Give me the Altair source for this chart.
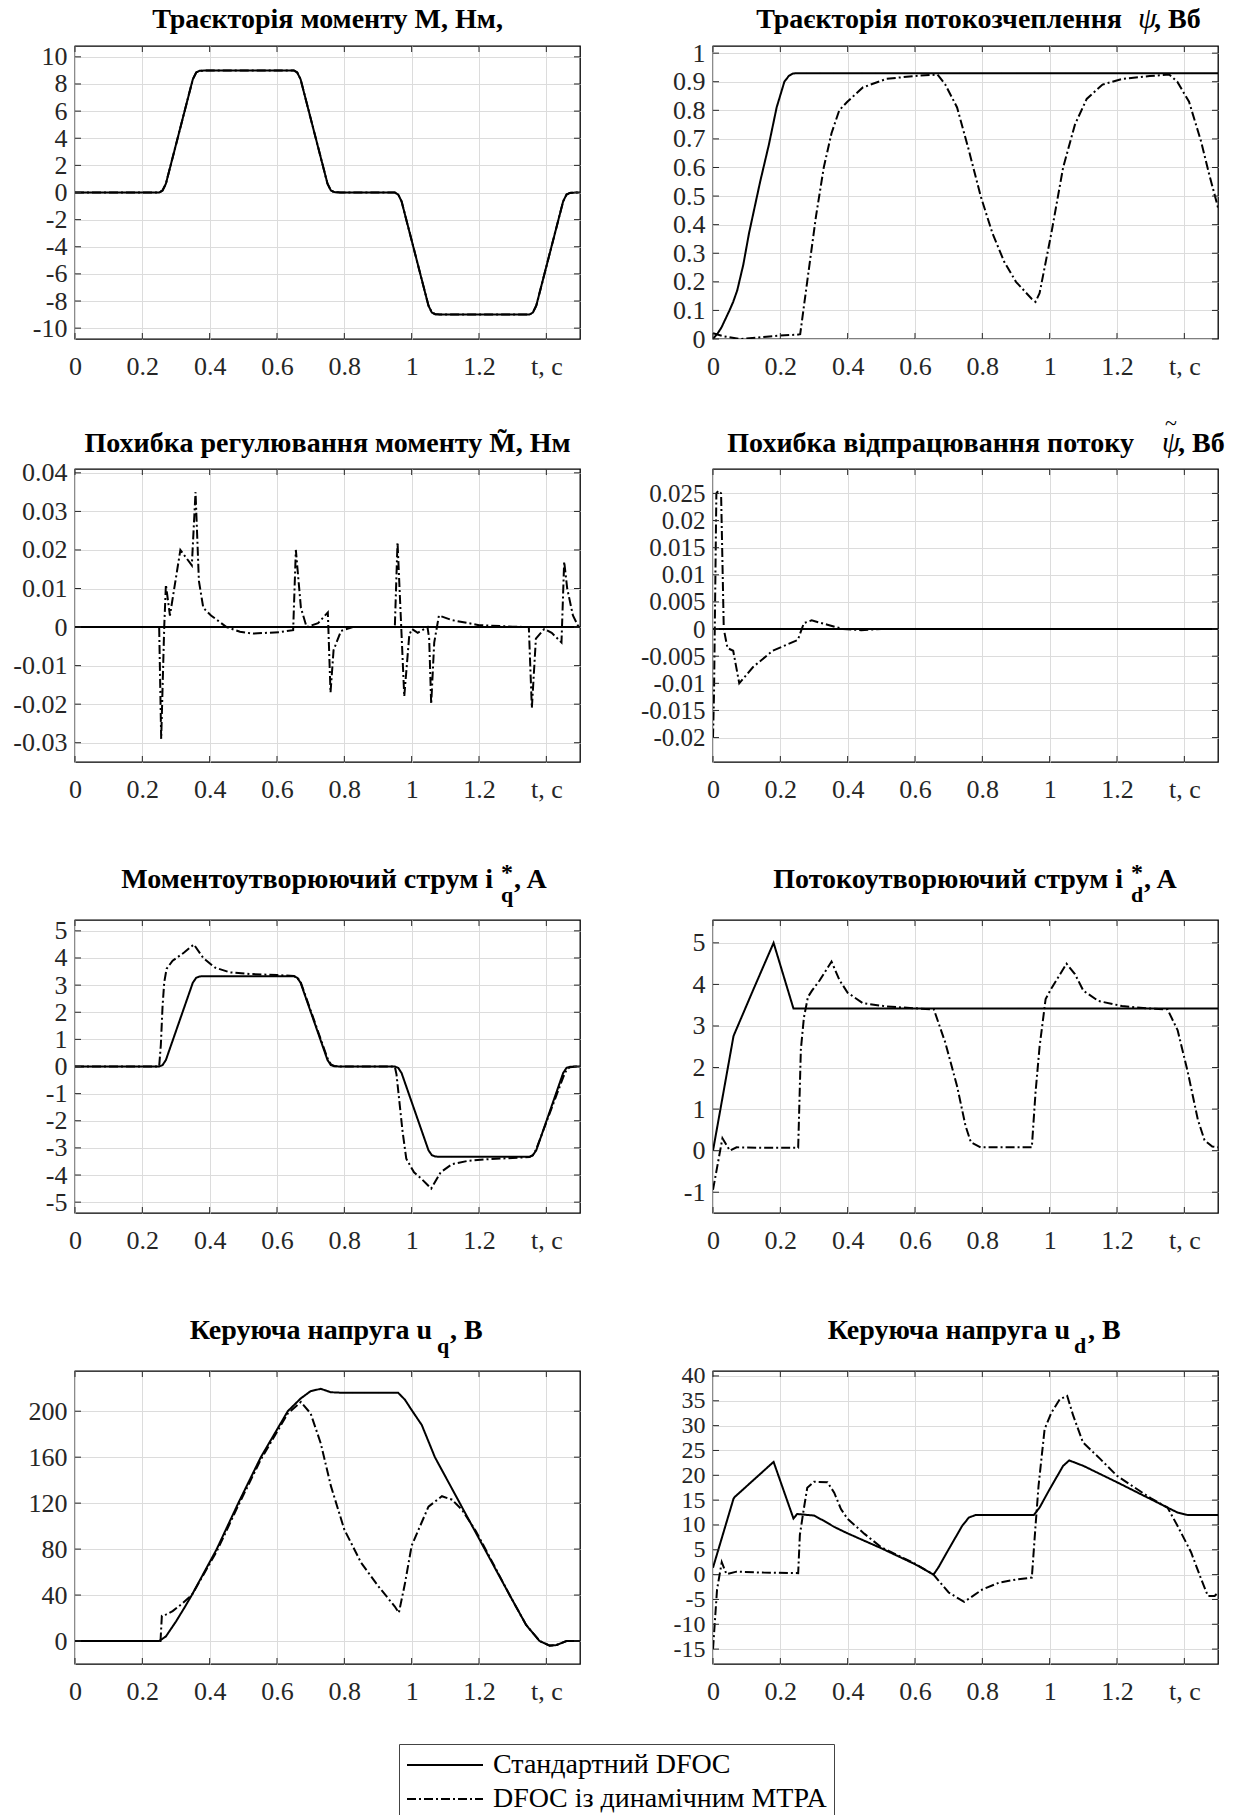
import altair as alt
import pandas as pd

FONT = "Liberation Serif"
TXT = "#262626"
SERIES = ["Стандартний DFOC", "DFOC із динамічним MTPA"]
DASH = [[1, 0], [9, 3, 2, 3]]
W, H = 505, 293
X_TICKS = [0, 0.2, 0.4, 0.6, 0.8, 1.0, 1.2, 1.4]

# ---------- Panel 1: torque ----------
m_t = [0, 0.25, 0.26, 0.27, 0.35, 0.36, 0.37, 0.39, 0.65, 0.66, 0.67, 0.75, 0.76, 0.77, 0.79,
       0.95, 0.96, 0.97, 1.05, 1.06, 1.07, 1.09, 1.35, 1.36, 1.37, 1.45, 1.46, 1.47, 1.49, 1.5]
m_std = [0, 0, 0.15, 0.65, 8.35, 8.85, 8.97, 9, 9, 8.85, 8.35, 0.65, 0.15, 0.03, 0,
         0, -0.15, -0.65, -8.35, -8.85, -8.97, -9, -9, -8.85, -8.35, -0.65, -0.15, -0.03, 0, 0]
m_dyn = [0, 0, 0.15, 0.65, 8.35, 8.85, 8.97, 9, 9, 8.85, 8.35, 0.65, 0.15, 0.03, 0,
         0, -0.15, -0.65, -8.35, -8.85, -8.97, -9, -9, -8.85, -8.35, -0.65, -0.15, -0.03, 0, 0]

# ---------- Panel 2: flux ----------
psi_std_t = [0, 0.014, 0.025, 0.037, 0.049, 0.06, 0.072, 0.09, 0.107, 0.14, 0.166, 0.189, 0.212,
             0.225, 0.236, 0.245, 1.5]
psi_std = [0, 0.02, 0.04, 0.07, 0.1, 0.13, 0.17, 0.26, 0.37, 0.55, 0.68, 0.81, 0.90,
           0.92, 0.928, 0.93, 0.93]
psi_dyn_t = [0, 0.03, 0.08, 0.15, 0.2, 0.25, 0.259, 0.282, 0.306, 0.329, 0.352, 0.375, 0.399, 0.445,
             0.515, 0.597, 0.667, 0.69, 0.725, 0.76, 0.795, 0.83, 0.865, 0.9, 0.947, 0.958, 0.97,
             1.005, 1.04, 1.075, 1.11, 1.157, 1.215, 1.297, 1.355, 1.379, 1.414, 1.45, 1.473, 1.5]
psi_dyn = [0.02, 0.01, 0.0, 0.007, 0.012, 0.015, 0.017, 0.22, 0.43, 0.60, 0.72, 0.80, 0.83, 0.88,
           0.91, 0.92, 0.925, 0.89, 0.81, 0.66, 0.50, 0.37, 0.27, 0.20, 0.14, 0.13, 0.16,
           0.37, 0.60, 0.75, 0.84, 0.89, 0.91, 0.92, 0.925, 0.90, 0.83, 0.69, 0.58, 0.46]

# ---------- Panel 3: torque error ----------
em_std_t = [0, 1.5]
em_std = [0, 0]
em_dyn_t = [0, 0.25, 0.256, 0.265, 0.27, 0.282, 0.313, 0.347, 0.358, 0.368,
            0.381, 0.404, 0.45, 0.49, 0.529, 0.609, 0.648, 0.656, 0.671, 0.688,
            0.722, 0.751, 0.759, 0.768, 0.79, 0.825, 0.95, 0.958, 0.969, 0.978,
            0.993, 1.001, 1.018, 1.047, 1.052, 1.058, 1.067, 1.081, 1.12, 1.2,
            1.3, 1.348, 1.357, 1.369, 1.394, 1.416, 1.445, 1.453, 1.462, 1.479,
            1.496, 1.5]
em_dyn = [0, 0, -0.029, 0.0, 0.011, 0.003, 0.020, 0.016, 0.035, 0.012,
          0.005, 0.003, 0.0, -0.0012, -0.0017, -0.0013, -0.0008, 0.020, 0.005, 0.0,
          0.001, 0.0038, -0.017, -0.006, -0.001, 0.0, 0.0, 0.022, 0.0, -0.018,
          -0.002, -0.0005, -0.0015, 0.0, -0.003, -0.020, -0.004, 0.003, 0.0018, 0.0005,
          0.0001, 0.0, -0.021, -0.003, -0.0005, -0.0015, -0.004, 0.017, 0.010, 0.003,
          0.0, 0.0]

# ---------- Panel 4: flux error ----------
ep_std_t = [0, 1.5]
ep_std = [0, 0]
ep_dyn_t = [0, 0.003, 0.01, 0.016, 0.024, 0.032, 0.043, 0.06, 0.078, 0.119, 0.177, 0.252,
            0.27, 0.293, 0.34, 0.386, 0.44, 0.5, 1.5]
ep_dyn = [-0.02, -0.012, 0.025, 0.0255, 0.025, 0.0, -0.0035, -0.004, -0.01, -0.007, -0.004, -0.002,
          0.0011, 0.0016, 0.0008, 0.0, -0.0002, 0.0, 0.0]

# ---------- Panel 5: iq* ----------
iq_std_t = [0, 0.25, 0.26, 0.27, 0.35, 0.36, 0.37, 0.39, 0.65, 0.66, 0.67, 0.75, 0.76, 0.77, 0.79,
            0.95, 0.96, 0.97, 1.05, 1.06, 1.07, 1.09, 1.35, 1.36, 1.37, 1.45, 1.46, 1.47, 1.49, 1.5]
iq_std = [0, 0, 0.05, 0.24, 3.09, 3.27, 3.32, 3.33, 3.33, 3.27, 3.09, 0.24, 0.05, 0.01, 0,
          0, -0.05, -0.24, -3.09, -3.27, -3.32, -3.33, -3.33, -3.27, -3.09, -0.24, -0.05, -0.01, 0, 0]
iq_dyn_t = [0, 0.25, 0.255, 0.26, 0.265, 0.272, 0.29, 0.324, 0.353, 0.381,
            0.415, 0.46, 0.52, 0.6, 0.65, 0.66, 0.67, 0.75, 0.76, 0.77,
            0.79, 0.95, 0.955, 0.961, 0.973, 0.984, 1.007, 1.03, 1.058, 1.086,
            1.12, 1.166, 1.234, 1.3, 1.35, 1.36, 1.37, 1.45, 1.46, 1.47,
            1.49, 1.5]
iq_dyn = [0, 0, 0.8, 2.2, 3.1, 3.6, 3.9, 4.2, 4.5, 4.0,
          3.65, 3.47, 3.41, 3.37, 3.34, 3.28, 3.12, 0.3, 0.08, 0.02,
          0, 0, -0.3, -1.0, -2.4, -3.4, -3.9, -4.15, -4.5, -3.9,
          -3.6, -3.48, -3.41, -3.37, -3.34, -3.27, -3.05, -0.4, -0.12, -0.03,
          0, 0]

# ---------- Panel 6: id* ----------
id_std_t = [0, 0.061, 0.12, 0.18, 0.239, 1.5]
id_std = [0, 2.76, 3.88, 5.0, 3.42, 3.42]
id_dyn_t = [0, 0.01, 0.028, 0.05, 0.07, 0.15, 0.253, 0.261, 0.27, 0.282,
            0.294, 0.317, 0.352, 0.376, 0.4, 0.445, 0.515, 0.61, 0.656, 0.69,
            0.725, 0.75, 0.766, 0.795, 0.947, 0.958, 0.97, 0.988, 1.005, 1.05,
            1.075, 1.1, 1.145, 1.215, 1.297, 1.35, 1.38, 1.41, 1.44, 1.46,
            1.483, 1.5]
id_dyn = [-0.94, -0.5, 0.3, 0.0, 0.08, 0.07, 0.07, 2.44, 3.2, 3.7,
          3.85, 4.1, 4.55, 4.1, 3.8, 3.55, 3.47, 3.42, 3.4, 2.6,
          1.55, 0.6, 0.2, 0.08, 0.08, 1.4, 2.5, 3.65, 3.9, 4.5,
          4.25, 3.85, 3.6, 3.48, 3.42, 3.4, 2.9, 1.9, 0.75, 0.25,
          0.1, 0.08]

# ---------- Panel 7: uq ----------
uq_std_t = [0, 0.25, 0.27, 0.3, 0.325, 0.347, 0.421, 0.485, 0.552, 0.632,
            0.67, 0.7, 0.73, 0.76, 0.8, 0.96, 0.98, 1.0, 1.03, 1.069,
            1.143, 1.217, 1.291, 1.34, 1.38, 1.41, 1.43, 1.46, 1.5]
uq_std = [0, 0, 4, 17, 29, 40, 80, 120, 160, 200,
          211, 217.5, 219.5, 216.5, 216, 216, 210, 201, 188, 160,
          120, 80, 40, 14, 0, -4, -3.5, 0, 0]
uq_dyn_t = [0, 0.254, 0.258, 0.27, 0.29, 0.32, 0.347, 0.421, 0.485, 0.552,
            0.632, 0.671, 0.7, 0.73, 0.76, 0.8, 0.85, 0.9, 0.95, 0.962,
            0.98, 1.0, 1.05, 1.09, 1.12, 1.15, 1.19, 1.23, 1.291, 1.34,
            1.38, 1.41, 1.43, 1.46, 1.5]
uq_dyn = [0, 0, 22, 23, 26, 33, 40, 78, 118, 158,
          198, 208, 198, 172, 135, 97, 68, 48, 30, 24.6,
          50, 83, 117, 126, 123, 114, 96, 74, 40, 14,
          0, -4, -3.5, 0, 0]

# ---------- Panel 8: ud ----------
ud_std_t = [0, 0.061, 0.064, 0.18, 0.239, 0.25, 0.3, 0.33, 0.36, 0.4,
            0.5, 0.6, 0.655, 0.67, 0.7, 0.74, 0.76, 0.78, 0.953, 0.97,
            1.0, 1.04, 1.058, 1.1, 1.2, 1.3, 1.35, 1.38, 1.41, 1.5]
ud_std = [1.4, 15.3, 15.6, 22.7, 11.3, 12.2, 11.9, 10.8, 9.6, 8.3,
          5.3, 2.1, 0, 1.5, 5.1, 9.8, 11.5, 12, 12, 13.5,
          17.2, 21.9, 23, 21.9, 18.6, 15.2, 13.5, 12.5, 12, 12]
ud_dyn_t = [0, 0.003, 0.012, 0.026, 0.04, 0.07, 0.15, 0.253, 0.258, 0.268,
            0.28, 0.3, 0.34, 0.36, 0.38, 0.4, 0.45, 0.5, 0.6, 0.655,
            0.7, 0.746, 0.8, 0.85, 0.9, 0.947, 0.958, 0.967, 0.985, 1.005,
            1.03, 1.052, 1.07, 1.099, 1.15, 1.2, 1.3, 1.35, 1.38, 1.42,
            1.45, 1.47, 1.49, 1.5]
ud_dyn = [-15, -12, -3, 2.5, 0.1, 0.6, 0.4, 0.3, 8, 12.5,
          17.5, 18.7, 18.6, 16.5, 13.2, 11.2, 8.2, 5.5, 2.2, 0,
          -3.6, -5.5, -3, -1.6, -1.0, -0.6, 9.8, 17.9, 29.3, 32.6,
          35.3, 36, 32, 26.6, 23.3, 19.9, 15.4, 13.5, 9.8, 4.5,
          -0.9, -4.3, -4.3, -3.6]

# ---------- axis settings: (domain, tick values, label font size) ----------
Y_DOMAINS = {
    1: ([-10.8, 10.8], [-10, -8, -6, -4, -2, 0, 2, 4, 6, 8, 10], 26),
    2: ([0, 1.025], [0, 0.1, 0.2, 0.3, 0.4, 0.5, 0.6, 0.7, 0.8, 0.9, 1], 26),
    3: ([-0.035, 0.041], [-0.03, -0.02, -0.01, 0, 0.01, 0.02, 0.03, 0.04], 26),
    4: ([-0.0245, 0.0295], [-0.02, -0.015, -0.01, -0.005, 0, 0.005, 0.01, 0.015, 0.02, 0.025], 25),
    5: ([-5.4, 5.4], [-5, -4, -3, -2, -1, 0, 1, 2, 3, 4, 5], 26),
    6: ([-1.5, 5.55], [-1, 0, 1, 2, 3, 4, 5], 26),
    7: ([-20, 235], [0, 40, 80, 120, 160, 200], 26),
    8: ([-18, 41], [-15, -10, -5, 0, 5, 10, 15, 20, 25, 30, 35, 40], 24),
}

TF = 28  # title font size
# title pieces: (text, align, x, y, size, weight, style)
TITLES = {
    1: [("Траєкторія моменту M, Нм,", "center", W / 2, -18, TF, "bold", "normal")],
    2: [("Траєкторія потокозчеплення", "right", 409, -18, TF, "bold", "normal"),
        ("\u03c8", "left", 425, -18, 30, "normal", "italic"),
        (", Вб", "left", 441, -18, TF, "bold", "normal")],
    3: [("Похибка регулювання моменту M\u0303, Нм", "center", W / 2, -17, TF, "bold", "normal")],
    4: [("Похибка відпрацювання потоку", "right", 421, -17, TF, "bold", "normal"),
        ("\u03c8", "left", 449, -17, 29, "normal", "italic"),
        ("~", "center", 458, -39, 22, "normal", "normal"),
        (", Вб", "left", 465, -17, TF, "bold", "normal")],
    5: [("Моментоутворюючий струм i", "right", 418, -32, TF, "bold", "normal"),
        ("*", "left", 426, -40, 24, "bold", "normal"),
        ("q", "left", 426, -18, 22, "bold", "normal"),
        (", A", "left", 439, -32, TF, "bold", "normal")],
    6: [("Потокоутворюючий струм i", "right", 410, -32, TF, "bold", "normal"),
        ("*", "left", 418, -40, 24, "bold", "normal"),
        ("d", "left", 418, -18, 22, "bold", "normal"),
        (", A", "left", 431, -32, TF, "bold", "normal")],
    7: [("Керуюча напруга u", "right", 357, -32, TF, "bold", "normal"),
        ("q", "left", 362, -18, 22, "bold", "normal"),
        (", B", "left", 375, -32, TF, "bold", "normal")],
    8: [("Керуюча напруга u", "right", 357, -32, TF, "bold", "normal"),
        ("d", "left", 361, -18, 22, "bold", "normal"),
        (", B", "left", 375, -32, TF, "bold", "normal")],
}


def panel(idx, st, sv, dt, dv, legend=False):
    ydom, yticks, yfs = Y_DOMAINS[idx]
    df = pd.concat([
        pd.DataFrame({"t": st, "v": sv, "s": SERIES[0]}),
        pd.DataFrame({"t": dt, "v": dv, "s": SERIES[1]}),
    ], ignore_index=True)
    xs = alt.Scale(domain=[0, 1.5], nice=False, zero=False)
    ys = alt.Scale(domain=ydom, nice=False, zero=False)
    xax = alt.Axis(values=X_TICKS, format="~r",
                   labelExpr="datum.value > 1.39 ? 't, с' : datum.label",
                   title=None, grid=True, ticks=False, domain=False, labelPadding=14,
                   labelFlush=False, labelOverlap=False)
    yax = alt.Axis(values=yticks, format="~r",
                   labelExpr="replace(datum.label, '\u2212', '-')",
                   title=None, grid=True, ticks=False, domain=False, labelPadding=8,
                   labelFlush=False, labelOverlap=False, labelFontSize=yfs)
    if legend:
        leg = alt.Legend(orient="none", legendX=324, legendY=1698, direction="vertical",
                         title=None, symbolType="M-2.6,0H12.6", symbolSize=100,
                         symbolStrokeWidth=2, symbolStrokeColor="black",
                         labelFont=FONT, labelFontSize=28, labelColor="black",
                         labelLimit=800, strokeColor="#444444", fillColor="white",
                         padding=7, labelOffset=59, rowPadding=6)
        sd = alt.StrokeDash("s:N", scale=alt.Scale(domain=SERIES, range=DASH), legend=leg)
    else:
        sd = alt.StrokeDash("s:N", scale=alt.Scale(domain=SERIES, range=DASH), legend=None)
    lines = alt.Chart(df).mark_line(color="black", strokeWidth=2, clip=True).encode(
        x=alt.X("t:Q", scale=xs, axis=xax), y=alt.Y("v:Q", scale=ys, axis=yax), strokeDash=sd)

    tx = pd.DataFrame({"t": X_TICKS})
    ty = pd.DataFrame({"v": yticks})
    bot = alt.Chart(tx).mark_rule(color=TXT, strokeWidth=1).encode(
        x=alt.X("t:Q", scale=xs, axis=xax), y=alt.value(H - 6), y2=alt.value(H))
    top = alt.Chart(tx).mark_rule(color=TXT, strokeWidth=1).encode(
        x=alt.X("t:Q", scale=xs, axis=xax), y=alt.value(0), y2=alt.value(6))
    lft = alt.Chart(ty).mark_rule(color=TXT, strokeWidth=1).encode(
        y=alt.Y("v:Q", scale=ys, axis=yax), x=alt.value(0), x2=alt.value(6))
    rgt = alt.Chart(ty).mark_rule(color=TXT, strokeWidth=1).encode(
        y=alt.Y("v:Q", scale=ys, axis=yax), x=alt.value(W - 6), x2=alt.value(W))

    texts = []
    for (s, al, x, y, size, wt, sty) in TITLES[idx]:
        texts.append(alt.Chart(pd.DataFrame({"s": [s]})).mark_text(
            align=al, baseline="alphabetic", font=FONT, fontSize=size, fontWeight=wt,
            fontStyle=sty, color="black").encode(text="s:N", x=alt.value(x), y=alt.value(y)))
    return alt.layer(lines, bot, top, lft, rgt, *texts).properties(width=W, height=H)


def spacer(h):
    return alt.Chart(pd.DataFrame({"a": [0]})).mark_point(opacity=0).encode(
        x=alt.X("a:Q", axis=None), y=alt.Y("a:Q", axis=None)
    ).properties(width=W, height=h, view=alt.ViewBackground(strokeOpacity=0))


p1 = panel(1, m_t, m_std, m_t, m_dyn, legend=True)
p2 = panel(2, psi_std_t, psi_std, psi_dyn_t, psi_dyn)
p3 = panel(3, em_std_t, em_std, em_dyn_t, em_dyn)
p4 = panel(4, ep_std_t, ep_std, ep_dyn_t, ep_dyn)
p5 = panel(5, iq_std_t, iq_std, iq_dyn_t, iq_dyn)
p6 = panel(6, id_std_t, id_std, id_dyn_t, id_dyn)
p7 = panel(7, uq_std_t, uq_std, uq_dyn_t, uq_dyn)
p8 = panel(8, ud_std_t, ud_std, ud_dyn_t, ud_dyn)

cells = [p1, p2, spacer(130), spacer(130), p3, p4, spacer(158), spacer(158),
         p5, p6, spacer(158), spacer(158), p7, p8]

chart = alt.concat(
    *cells, columns=2, spacing=alt.RowColnumber(row=0, column=133), bounds="flush", align="each"
).properties(
    padding={"left": 75, "top": 46, "right": 1162, "bottom": 1769},
    autosize=alt.AutoSizeParams(type="none"),
    background="white",
).configure_view(
    stroke="black", strokeWidth=1.3
).configure_axis(
    labelFont=FONT, labelFontSize=26, labelColor=TXT, gridColor="#dcdcdc", gridWidth=1
)

chart.save("out.html", embed_options={"renderer": "svg", "actions": False})
